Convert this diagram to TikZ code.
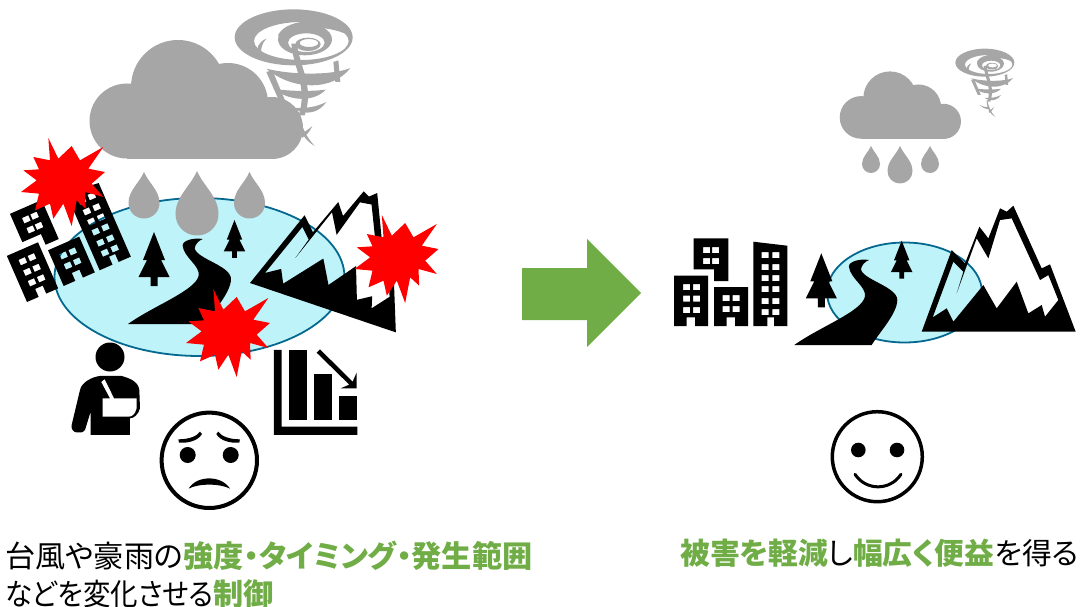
\documentclass[tikz,border=0pt]{standalone}
\usepackage{fontspec}
\usepackage{xcolor}
\usepackage{tikz}
\usetikzlibrary{calc}
\setmainfont[RawFeature=+palt]{Noto Sans CJK JP}

\definecolor{cloudgray}{HTML}{A6A6A6}
\definecolor{lakeblue}{HTML}{BDF3F9}
\definecolor{lakeedge}{HTML}{04688F}
\definecolor{leafgreen}{HTML}{70AD47}

% kana in the second line sit tighter than in the first
\newcommand{\tightkana}[1]{{\addfontfeature{FakeStretch=0.91}#1}}

\tikzset{
	caption/.style={font=\fontsize{30.2}{32}\selectfont, anchor=base west, inner sep=0pt},
	lake/.style={fill=lakeblue, draw=lakeedge, line width=1.8pt},
	% gray cloud with a thin white rim on its middle lobe, anchored on its lower left corner
	pics/cloud/.style={code={
		\begin{scope}[shift={(-90,-159)}]
			\fill[white] (228,103) circle [radius=42];
			\fill[cloudgray] (127,121) circle [radius=37.5];
			\fill[cloudgray] (178,87) circle [radius=47];
			\fill[cloudgray] (228,103) circle [radius=40];
			\fill[cloudgray] (272,128) circle [radius=31];
			\fill[cloudgray] (127,100) rectangle (272,159);
		\end{scope}
	}},
	pics/drop/.style={code={
		\fill[cloudgray] (0,0) .. controls (-15,35) and (-50,60) .. (-50,100)
		.. controls (-50,128) and (-28,150) .. (0,150)
		.. controls (28,150) and (50,128) .. (50,100)
		.. controls (50,60) and (15,35) .. (0,0) -- cycle;
	}},
	% funnel: rings on top, bands and ribs below
	pics/tornado/.style={code={
		\begin{scope}[scale=0.3333, shift={(-883,-125)}]
			\fill[cloudgray, even odd rule] (882,111) ellipse [x radius=177, y radius=84]
			(905,122) ellipse [x radius=142, y radius=57];
			\fill[cloudgray, even odd rule] (916,117) ellipse [x radius=81, y radius=48]
			(920,127) ellipse [x radius=55, y radius=28];
			\fill[cloudgray, even odd rule] (925,132) ellipse [x radius=38, y radius=20]
			(928,128) ellipse [x radius=28, y radius=12];
			\fill[cloudgray] (835,105) .. controls (860,50) and (1000,45) .. (1058,112)
			.. controls (1000,72) and (880,72) .. (850,115) -- cycle;
			% bands
			\fill[cloudgray] (800,205) .. controls (880,272) and (1000,272) .. (1052,203)
			.. controls (1000,225) and (880,225) .. (800,205) -- cycle;
			\fill[cloudgray] (820,265) .. controls (880,310) and (950,300) .. (978,268)
			.. controls (950,272) and (880,275) .. (820,265) -- cycle;
			\fill[cloudgray] (880,322) .. controls (920,350) and (960,335) .. (980,305)
			.. controls (950,320) and (920,325) .. (880,322) -- cycle;
			% ribs
			\fill[cloudgray] (875,130) -- (892,130) .. controls (900,200) and (945,260) .. (915,345)
			-- (897,345) .. controls (925,260) and (880,200) .. cycle;
			\fill[cloudgray] (1001,185) -- (1016,180) -- (1022,245) -- (1007,245) -- cycle;
			\fill[cloudgray] (800,115) .. controls (775,125) and (770,145) .. (772,165)
			-- (785,170) .. controls (782,150) and (785,130) .. (800,115) -- cycle;
			\fill[cloudgray] (800,215) -- (818,210) -- (858,305) -- (840,305) -- cycle;
			% stem and tail
			\fill[cloudgray] (897,335) .. controls (905,380) and (920,410) .. (945,437)
			.. controls (915,420) and (895,390) .. (893,340) -- cycle;
			\fill[cloudgray] (905,400) .. controls (915,395) and (925,388) .. (938,377)
			.. controls (930,395) and (920,405) .. (908,412) -- cycle;
			\fill[cloudgray] (905,392) .. controls (885,390) and (865,380) .. (850,365)
			.. controls (865,375) and (885,378) .. (905,378) -- cycle;
		\end{scope}
	}},
	pics/burst/.style={code={
		\begin{scope}[scale=0.3333, shift={(-690,-160)}]
			\fill[red] (640,28) -- (670,90) -- (710,52) -- (735,95) -- (805,55) -- (760,120)
			-- (810,130) -- (770,165) -- (805,205) -- (750,190) -- (752,240) -- (725,215)
			-- (710,292) -- (685,225) -- (655,270) -- (645,225) -- (600,245) -- (612,195)
			-- (558,190) -- (605,155) -- (565,125) -- (612,122) -- (595,85) -- (645,95) -- cycle;
		\end{scope}
	}},
	pics/pine/.style={code={
		\fill (0,0) -- (-11,28) -- (-7,28) -- (-15.5,45) -- (-3.5,45) -- (-3.5,54) -- (3.5,54)
		-- (3.5,45) -- (15.5,45) -- (7,28) -- (11,28) -- cycle;
	}},
	% origin on the left end of the river's lower edge
	pics/river/.style={code={
		\begin{scope}[scale=0.3333, shift={(-403,-945)}]
			\fill (403,945) -- (635,945) .. controls (660,905) and (712,850) .. (712,810)
			.. controls (712,770) and (610,750) .. (603,718) .. controls (605,705) and (615,695) .. (627,690)
			.. controls (600,685) and (565,695) .. (567,710) .. controls (570,745) and (620,770) .. (615,800)
			.. controls (605,845) and (480,890) .. (403,945) -- cycle;
		\end{scope}
	}},
	% origin on the left end of the base line
	pics/mountain/.style={code={
		\begin{scope}[scale=0.3333, shift={(-785,-905)}]
			\fill[even odd rule] (785,905) -- (875,660) -- (915,700) -- (958,590) -- (985,625)
			-- (1020,535) -- (1040,545) -- (1060,527) -- (1145,715) -- (1170,703) -- (1247,905) -- cycle
			(818,862) -- (880,695) -- (910,725) -- (890,790) -- (950,625) -- (985,685)
			-- (1020,570) -- (1055,565) -- (1140,750) -- (1165,735) -- (1195,810)
			-- (1155,860) -- (1145,825) -- (1105,850) -- (1070,755) -- (1010,835)
			-- (970,765) -- (880,875) -- (860,835) -- cycle;
		\end{scope}
	}},
	% four blocks, origin on the lower left corner
	pics/city/.style={code={
		\fill[even odd rule] (0,-50.3) -- (34,-50.3) -- (34,0) -- (21,0) -- (21,-8.7) -- (12.7,-8.7) -- (12.7,0) -- (0,0) -- cycle
		\foreach \y in {-42,-30.5,-19}{ \foreach \x in {9,19}{ (\x,\y) rectangle ++(7,6) } };
		\fill[even odd rule] (40,-39) -- (74,-39) -- (74,0) -- (61,0) -- (61,-8.7) -- (52.7,-8.7) -- (52.7,0) -- (40,0) -- cycle
		\foreach \y in {-31,-20}{ \foreach \x in {48.7,58.7}{ (\x,\y) rectangle ++(7,6) } };
		\fill[even odd rule] (19.7,-87.6) -- (54.3,-87.6) -- (54.3,-45) -- (40,-45) -- (40,-56.7) -- (19.7,-56.7) -- cycle
		\foreach \y in {-79,-68}{ \foreach \x in {29,38}{ (\x,\y) rectangle ++(7,6) } };
		\fill[even odd rule] (79.3,-84.3) -- (113.3,-80.3) -- (113.3,0) -- (100,0) -- (100,-8.7) -- (93.3,-8.7) -- (93.3,0) -- (79.3,0) -- cycle
		\foreach \y in {-74,-62,-51,-40,-28,-17}{ \foreach \x in {87.7,98.3}{ (\x,\y) rectangle ++(7,6) } };
	}}
}

\begin{document}
\begin{tikzpicture}[x=1pt, y=-1pt]
	\useasboundingbox (0,0) rectangle (1080,607);

	% left scene
	\draw[lake] (199.5,277) ellipse [x radius=145, y radius=79];
	\pic[rotate=23.6] at (27,302) {city};
	\pic at (128,324) {river};
	\pic at (154,232) {pine};
	\pic[scale=0.7] at (234.5,220) {pine};
	\pic[rotate=-18.7] at (250,283) {mountain};
	\pic at (294,42) {tornado};
	\pic at (90,159) {cloud};
	\pic[scale=0.31] at (144,172) {drop};
	\pic[scale=0.43] at (197,171) {drop};
	\pic[scale=0.31] at (249.5,172) {drop};
	\pic at (65,182) {burst};
	\pic at (398.5,259) {burst};
	\pic at (230,333) {burst};

	% person with the arm in a sling
	\fill (110,357) circle [radius=14.5];
	\begin{scope}[shift={(0,280)}, scale=0.3333]
		\fill (240,330) .. controls (245,305) and (280,290) .. (300,288) -- (365,288)
		.. controls (390,295) and (415,305) .. (418,330) -- (420,385)
		.. controls (415,405) and (400,415) .. (390,415) -- (390,465) -- (272,465) -- (272,395) -- (255,450)
		.. controls (245,465) and (210,460) .. (215,435) -- cycle;
		\fill[white] (304,306) -- (314,298) -- (342,355) -- (410,355) -- (410,385)
		.. controls (405,405) and (395,410) .. (385,410) -- (308,410) -- (308,355) -- (330,355) -- cycle;
	\end{scope}

	% falling bar chart
	\begin{scope}[shift={(0,280)}, scale=0.3333]
		\fill (822,210) -- (845,210) -- (845,440) -- (1072,440) -- (1072,465) -- (822,465) -- cycle;
		\fill (866,210) rectangle (920,420);
		\fill (943,283) rectangle (996,420);
		\fill (1018,348) rectangle (1072,420);
		\fill (950,218) -- (960,208) -- (1058,305) -- (1070,278) -- (1070,325) -- (1022,325) -- (1048,314) -- cycle;
	\end{scope}

	% unhappy face
	\draw[line width=4pt] (209.3,460.3) circle [radius=47.7];
	\fill (187.7,455) circle [radius=8] (230.7,455) circle [radius=8];
	\begin{scope}[shift={(0,280)}, scale=0.3333]
		\fill (535,478) .. controls (565,478) and (590,470) .. (600,455) -- (606,462)
		.. controls (595,482) and (565,490) .. (537,488) -- cycle;
		\fill (720,478) .. controls (690,478) and (665,470) .. (655,455) -- (649,462)
		.. controls (660,482) and (690,490) .. (718,488) -- cycle;
		\fill (566,626) .. controls (590,585) and (665,585) .. (690,626)
		.. controls (660,610) and (595,610) .. (566,626) -- cycle;
	\end{scope}

	% central arrow
	\fill[leafgreen] (522,268) -- (587,268) -- (587,239) -- (641,293) -- (587,347) -- (587,320) -- (522,320) -- cycle;

	% right scene
	\draw[lake] (904.5,292.5) ellipse [x radius=77.5, y radius=50];
	\pic at (674,326) {city};
	\pic at (794.3,345) {river};
	\pic at (821.3,253.3) {pine};
	\pic[scale=0.7] at (901.7,240.7) {pine};
	\pic at (921.7,331.7) {mountain};
	\pic[scale=0.5] at (985,65) {tornado};
	\pic[scale=0.568] at (840,139) {cloud};
	\pic[scale=0.18] at (871,146) {drop};
	\pic[scale=0.25] at (900,146) {drop};
	\pic[scale=0.18] at (930,146) {drop};

	% happy face
	\draw[line width=3.5pt] (877.3,456.7) circle [radius=45];
	\fill (858.3,450) circle [radius=7.3] (897,450) circle [radius=7.3];
	\draw[line width=3pt, line cap=round] (855,474.3) .. controls (866,491) and (890,491) .. (901,474.3);

	% captions
	\node[caption] (causeA) at (5,567) {台風や豪雨の\textcolor{leafgreen}{\textbf{強度・タイミング・発生範囲}}};
	\node[caption] (causeB) at (5,605) {\tightkana{などを変化させる}\textcolor{leafgreen}{\textbf{制御}}};
	\node[caption, font=\fontsize{29.8}{32}\selectfont] (effect) at (680,564.5) {\textcolor{leafgreen}{\textbf{被害を軽減}}し\textcolor{leafgreen}{\textbf{幅広く便益}}を得る};
\end{tikzpicture}
\end{document}
